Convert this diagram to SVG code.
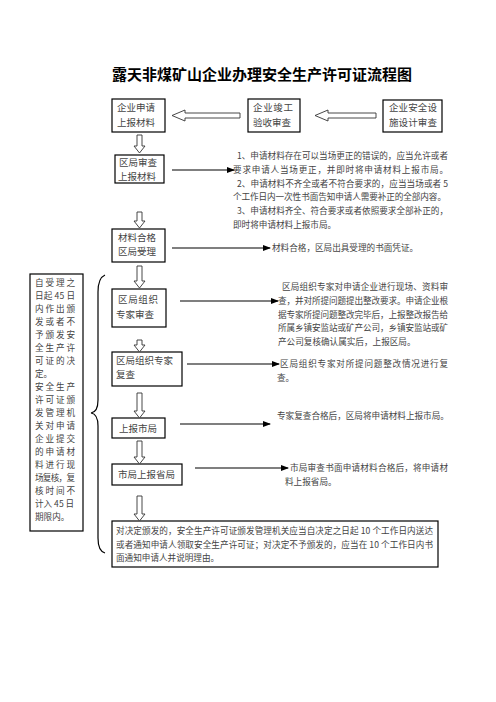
<svg xmlns="http://www.w3.org/2000/svg" width="496" height="702" viewBox="0 0 496 702">
<style>
.box{fill:#fff;stroke:#000;stroke-width:1.2}
.t{font-family:"Noto Sans CJK SC","Liberation Serif",serif;font-size:9.5px;fill:#444}
.s{font-family:"Noto Sans CJK SC","Liberation Serif",serif;font-size:8.6px;fill:#444}
.title{font-family:"Noto Sans CJK SC",sans-serif;font-size:15px;font-weight:bold;fill:#000}
.ha{fill:#fff;stroke:#333;stroke-width:0.9}
.ln{stroke:#000;stroke-width:1.2;fill:none}
</style>
<defs>
<marker id="ah" markerWidth="8" markerHeight="6" refX="7" refY="3" orient="auto" markerUnits="userSpaceOnUse">
<path d="M0,0 L8,3 L0,6 Z" fill="#000"/>
</marker>
</defs>
<rect width="496" height="702" fill="#fff"/>
<text class="title" x="262" y="80" text-anchor="middle">露天非煤矿山企业办理安全生产许可证流程图</text>

<g id="n1"><rect class="box" x="112" y="99" width="53" height="33"/><text class="t" x="117" y="111">企业申请</text><text class="t" x="117" y="126">上报材料</text></g>
<g id="n2"><rect class="box" x="248" y="99" width="52" height="33"/><text class="t" x="253" y="111" textLength="40">企业竣工</text><text class="t" x="253" y="126">验收审查</text></g>
<g id="n3"><rect class="box" x="383" y="100" width="59" height="32"/><text class="t" x="389" y="111" textLength="48">企业安全设</text><text class="t" x="389" y="126" textLength="48">施设计审查</text></g>
<g id="n4"><rect class="box" x="115" y="155" width="49" height="28"/><text class="t" x="119" y="166">区局审查</text><text class="t" x="118" y="180">上报材料</text></g>
<g id="n5"><rect class="box" x="112" y="229" width="53" height="33"/><text class="t" x="118" y="241">材料合格</text><text class="t" x="118" y="255">区局受理</text></g>
<g id="n6"><rect class="box" x="112" y="289" width="54" height="38"/><text class="t" x="118" y="303" textLength="40">区局组织</text><text class="t" x="116" y="318">专家审查</text></g>
<g id="n7"><rect class="box" x="112" y="352" width="70" height="34"/><text class="t" x="116" y="364">区局组织专家</text><text class="t" x="116" y="378">复查</text></g>
<g id="n8"><rect class="box" x="112" y="418" width="53" height="20"/><text class="t" x="119" y="432">上报市局</text></g>
<g id="n9"><rect class="box" x="112" y="464" width="70" height="21"/><text class="t" x="118" y="478">市局上报省局</text></g>
<g id="n10"><rect class="box" x="112" y="521" width="326" height="46"/>
<text class="s" x="116" y="534" textLength="317">对决定颁发的，安全生产许可证颁发管理机关应当自决定之日起 10 个工作日内送达</text>
<text class="s" x="116" y="548" textLength="317">或者通知申请人领取安全生产许可证；对决定不予颁发的，应当在 10 个工作日内书</text>
<text class="s" x="116" y="561">面通知申请人并说明理由。</text></g>

<g id="left"><rect class="box" x="30" y="274" width="53" height="257"/>
<g class="s">
<text x="35" y="286" textLength="40">自受理之</text>
<text x="35" y="299" textLength="40">日起 45 日</text>
<text x="35" y="312" textLength="40">内作出颁</text>
<text x="35" y="325" textLength="40">发或者不</text>
<text x="35" y="338" textLength="40">予颁发安</text>
<text x="35" y="351" textLength="40">全生产许</text>
<text x="35" y="364" textLength="40">可证的决</text>
<text x="35" y="377">定。</text>
<text x="35" y="390" textLength="40">安全生产</text>
<text x="35" y="403" textLength="40">许可证颁</text>
<text x="35" y="416" textLength="40">发管理机</text>
<text x="35" y="429" textLength="40">关对申请</text>
<text x="35" y="442" textLength="40">企业提交</text>
<text x="35" y="455" textLength="40">的申请材</text>
<text x="35" y="468" textLength="40">料进行现</text>
<text x="35" y="481" textLength="40">场复核，复</text>
<text x="35" y="494" textLength="40">核时间不</text>
<text x="35" y="507">计入 45 日</text>
<text x="35" y="520">期限内。</text>
</g></g>

<g id="notes" class="s">
<text x="237" y="159" textLength="211">1、申请材料存在可以当场更正的错误的，应当允许或者</text>
<text x="233" y="173" textLength="215">要求申请人当场更正，并即时将申请材料上报市局。</text>
<text x="237" y="187" textLength="211">2、申请材料不齐全或者不符合要求的，应当当场或者 5</text>
<text x="233" y="200" textLength="213">个工作日内一次性书面告知申请人需要补正的全部内容。</text>
<text x="237" y="214" textLength="211">3、申请材料齐全、符合要求或者依照要求全部补正的，</text>
<text x="233" y="228">即时将申请材料上报市局。</text>
<text x="272" y="251">材料合格，区局出具受理的书面凭证。</text>
<text x="282" y="290" textLength="166">区局组织专家对申请企业进行现场、资料审</text>
<text x="278" y="304" textLength="170">查，并对所提问题提出整改要求。申请企业根</text>
<text x="278" y="318" textLength="170">据专家所提问题整改完毕后，上报整改报告给</text>
<text x="278" y="331" textLength="170">所属乡镇安监站或矿产公司，乡镇安监站或矿</text>
<text x="278" y="345">产公司复核确认属实后，上报区局。</text>
<text x="280" y="367" textLength="168">区局组织专家对所提问题整改情况进行复</text>
<text x="277" y="381">查。</text>
<text x="277" y="419">专家复查合格后，区局将申请材料上报市局。</text>
<text x="290" y="471" textLength="158">市局审查书面申请材料合格后，将申请材</text>
<text x="285" y="485">料上报省局。</text>
</g>

<g id="connectors">
<polygon class="ha" points="240,113 185,113 185,110 172,115.5 185,121 185,118 240,118"/>
<polygon class="ha" points="376,113 328,113 328,110 315,115.5 328,121 328,118 376,118"/>
<polygon class="ha" points="137,135 142,135 142,146 145,146 139.5,153 134,146 137,146"/>
<polygon class="ha" points="137,212 142,212 142,221 145,221 139.5,228 134,221 137,221"/>
<polygon class="ha" points="137,266 142,266 142,281 145,281 139.5,288 134,281 137,281"/>
<polygon class="ha" points="137,340 142,340 142,345 145,345 139.5,352 134,345 137,345"/>
<polygon class="ha" points="137,393 142,393 142,411 145,411 139.5,418 134,411 137,411"/>
<polygon class="ha" points="137,441 142,441 142,457 145,457 139.5,464 134,457 137,457"/>
<polygon class="ha" points="137,496 142,496 142,514 145,514 139.5,521 134,514 137,514"/>
<line class="ln" x1="172" y1="170" x2="234" y2="170" marker-end="url(#ah)"/>
<line class="ln" x1="172" y1="248" x2="270" y2="248" marker-end="url(#ah)"/>
<line class="ln" x1="180" y1="301" x2="278" y2="301" marker-end="url(#ah)"/>
<line class="ln" x1="187" y1="364" x2="279" y2="364" marker-end="url(#ah)"/>
<line class="ln" x1="180" y1="424" x2="270" y2="424" marker-end="url(#ah)"/>
<line class="ln" x1="195" y1="468" x2="288" y2="468" marker-end="url(#ah)"/>
<path class="ln" stroke-width="1" d="M105,275 Q98,278 98,292 L98,400 Q98,412 91,413 Q98,414 98,426 L98,538 Q98,551 105,553"/>
</g>
</svg>
